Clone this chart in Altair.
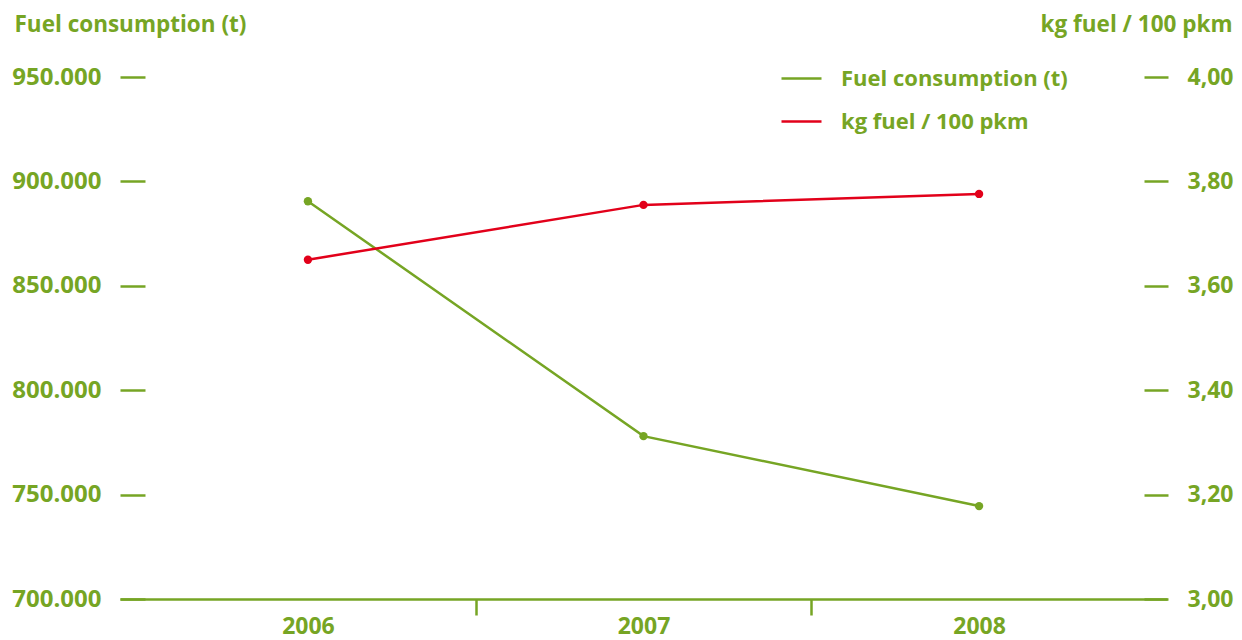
import altair as alt
import pandas as pd

years = [2006, 2007, 2008]
fuel_t = [890500, 778000, 744500]
kg_per_100pkm = [3.65, 3.755, 3.776]
series_names = ["Fuel consumption (t)", "kg fuel / 100 pkm"]
left_ticks = [700000, 750000, 800000, 850000, 900000, 950000]
right_ticks = [3.0, 3.2, 3.4, 3.6, 3.8, 4.0]
x_ticks = [2006, 2006.5, 2007, 2007.5, 2008]

GREEN = "#76a524"
RED = "#e2001a"
FONT = "Open Sans"

df = pd.DataFrame({"year": years, "fuel": fuel_t, "kg": kg_per_100pkm})

x = alt.X(
    "year:Q",
    scale=alt.Scale(domain=[2005.44, 2008.56], nice=False, zero=False),
    axis=alt.Axis(
        values=x_ticks,
        labelExpr="datum.value % 1 == 0 ? format(datum.value, 'd') : ''",
        tickOpacity={"condition": {"test": "datum.value % 1 == 0", "value": 0}, "value": 1},
        tickSize=16,
        tickWidth=2.5,
        tickColor=GREEN,
        domainColor=GREEN,
        domainWidth=2.5,
        grid=False,
        labelPadding=0,
        labelBaseline="top",
        labelFontSize=23,
        title=None,
    ),
)

color = alt.Color(
    "series:N",
    scale=alt.Scale(domain=series_names, range=[GREEN, RED]),
    legend=alt.Legend(
        orient="none",
        legendX=660,
        legendY=-20,
        title=None,
        symbolType="stroke",
        symbolSize=1600,
        symbolStrokeWidth=2.5,
        labelOffset=18,
        rowPadding=10,
        labelLimit=500,
        labelFont=FONT,
        labelFontSize=22,
        labelFontWeight="bold",
        labelColor=GREEN,
    ),
)

left = alt.Chart(df).transform_calculate(series="'Fuel consumption (t)'").mark_line(
    strokeWidth=2.5, point=alt.OverlayMarkDef(size=70, filled=True, opacity=1)
).encode(
    x=x,
    y=alt.Y(
        "fuel:Q",
        scale=alt.Scale(domain=[700000, 950000], nice=False, zero=False),
        axis=alt.Axis(
            orient="left",
            values=left_ticks,
            labelExpr="replace(format(datum.value, ','), ',', '.')",
            offset=-25,
            tickSize=25,
            tickWidth=2.5,
            tickColor=GREEN,
            domain=False,
            grid=False,
            labelPadding=19,
            labelFontSize=24,
            title="Fuel consumption (t)",
            titleAngle=0,
            titleX=-131,
            titleY=-46,
            titleAlign="left",
            titleBaseline="alphabetic",
            titleLimit=600,
        ),
    ),
    color=color,
)

right = alt.Chart(df).transform_calculate(series="'kg fuel / 100 pkm'").mark_line(
    strokeWidth=2.5, point=alt.OverlayMarkDef(size=70, filled=True, opacity=1)
).encode(
    x=x,
    y=alt.Y(
        "kg:Q",
        scale=alt.Scale(domain=[3.0, 4.0], nice=False, zero=False),
        axis=alt.Axis(
            orient="right",
            values=right_ticks,
            labelExpr="replace(format(datum.value, '.2f'), '.', ',')",
            offset=-23,
            tickSize=24,
            tickWidth=2.5,
            tickColor=GREEN,
            domain=False,
            grid=False,
            labelPadding=19,
            labelFontSize=23,
            title="kg fuel / 100 pkm",
            titleAngle=0,
            titleX=88,
            titleY=-46,
            titleAlign="right",
            titleBaseline="alphabetic",
            titleLimit=600,
        ),
    ),
    color=color,
)

chart = (
    alt.layer(left, right)
    .resolve_scale(y="independent")
    .properties(
        width=1047,
        height=522,
        autosize=alt.AutoSizeParams(type="none"),
        padding={"left": 112, "top": 69, "right": 67, "bottom": 41},
    )
    .configure_view(stroke=None)
    .configure_axis(
        labelFont=FONT,
        labelFontWeight="bold",
        labelColor=GREEN,
        titleFont=FONT,
        titleFontWeight="bold",
        titleColor=GREEN,
        titleFontSize=22.5,
    )
)

chart.save("out.html", embed_options={"renderer": "svg", "actions": False})
